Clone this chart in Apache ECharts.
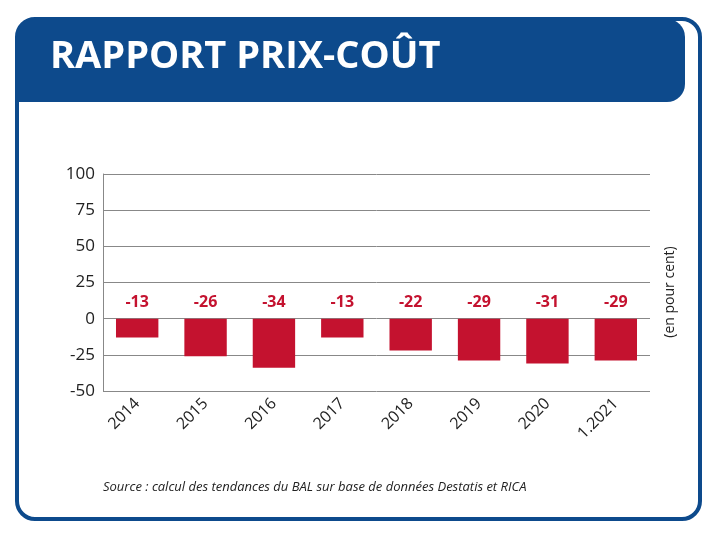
<!DOCTYPE html>
<html>
<head>
<meta charset="utf-8">
<script src="https://cdn.jsdelivr.net/npm/echarts@6/dist/echarts.min.js"></script>
<style>html,body{margin:0;padding:0;background:#fff}#chart{width:720px;height:538px}</style>
</head>
<body>
<div id="chart"></div>
<script>
var categories = ['2014', '2015', '2016', '2017', '2018', '2019', '2020', '1.2021'];
var values = [-13, -26, -34, -13, -22, -29, -31, -29];
var yTicks = [-50, -25, 0, 25, 50, 75, 100];

var chart = echarts.init(document.getElementById('chart'));
var navy = '#0d4a8c';

chart.setOption({
  animation: false,
  graphic: [
    // cadre extérieur
    { type: 'rect', shape: { x: 17, y: 19, width: 683, height: 500, r: 18 },
      style: { fill: '#fff', stroke: navy, lineWidth: 4 }, z: -10 },
    // bandeau titre
    { type: 'rect', shape: { x: 17, y: 19, width: 668, height: 83, r: [18, 18, 18, 0] },
      style: { fill: navy }, z: -9 },
    { type: 'text', left: 50, top: 38,
      style: { text: 'RAPPORT PRIX-COÛT', fill: '#fff', font: 'bold 38px "Open Sans", sans-serif' } },
    { type: 'text', left: 103, top: 481,
      style: { text: 'Source : calcul des tendances du BAL sur base de données Destatis et RICA',
        fill: '#222', font: 'italic 13px "Open Sans", sans-serif' } },
    { type: 'text', x: 670, y: 292, rotation: Math.PI / 2,
      style: { text: '(en pour cent)', fill: '#222', font: '14px "Open Sans", sans-serif',
        align: 'center', verticalAlign: 'middle' } }
  ],
  grid: { left: 103, right: 70, top: 174, bottom: 147 },
  xAxis: {
    type: 'category',
    data: categories,
    axisLine: { show: false },
    axisTick: { show: false },
    axisLabel: { rotate: 45, color: '#222', fontSize: 16, margin: 10, fontFamily: 'Open Sans' }
  },
  yAxis: {
    type: 'value',
    min: yTicks[0],
    max: yTicks[yTicks.length - 1],
    interval: 25,
    axisLine: { show: true, lineStyle: { color: '#888' } },
    axisTick: { show: false },
    axisLabel: { color: '#222', fontSize: 17, margin: 8, fontFamily: 'Open Sans' },
    splitLine: { lineStyle: { color: '#888', width: 1 } }
  },
  series: [{
    type: 'bar',
    data: values,
    barWidth: '62%',
    itemStyle: { color: '#c4122f' },
    label: {
      show: true,
      position: 'top',
      distance: 8,
      color: '#c4122f',
      fontWeight: 'bold',
      fontSize: 16,
      fontFamily: 'Open Sans'
    }
  }]
});
</script>
</body>
</html>
